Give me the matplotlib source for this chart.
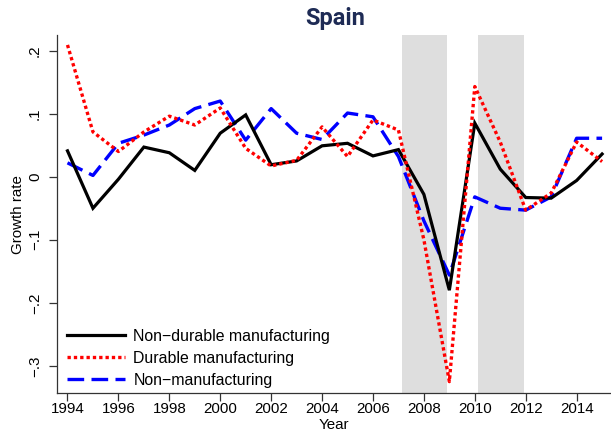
import matplotlib
matplotlib.use('Agg')
import numpy as np
import matplotlib.pyplot as plt
from matplotlib.ticker import FixedLocator

#---------------------------------------------------------------
# data
years = list(range(1994, 2016))

nondurable = [0.041, -0.050, -0.004, 0.047, 0.038, 0.010, 0.069, 0.098, 0.019, 0.025, 0.049,
              0.053, 0.033, 0.043, -0.028, -0.180, 0.085, 0.012, -0.033, -0.034, -0.006, 0.036]
durable    = [0.209, 0.071, 0.040, 0.071, 0.096, 0.082, 0.109, 0.045, 0.017, 0.026, 0.079,
              0.032, 0.090, 0.074, -0.100, -0.325, 0.143, 0.055, -0.053, -0.026, 0.055, 0.024]
nonmanuf   = [0.022, 0.002, 0.053, 0.066, 0.082, 0.108, 0.120, 0.058, 0.108, 0.069, 0.059,
              0.101, 0.095, 0.032, -0.070, -0.156, -0.032, -0.050, -0.053, -0.032, 0.061, 0.061]

recessions = [(2007.13, 2008.92), (2010.13, 2011.92)]

yticks = [0.2, 0.1, 0.0, -0.1, -0.2, -0.3]
ytick_labels = ['.2', '.1', '0', '\u2212.1', '\u2212.2', '\u2212.3']
xticks = list(range(1994, 2016, 2))

#---------------------------------------------------------------
plt.rcParams['font.family'] = ['Liberation Sans', 'DejaVu Sans']

fig = plt.figure(figsize=(6.11, 4.34), dpi=100)
ax = fig.add_axes([0.0938, 0.0945, 0.9062, 0.8245])

for (a, b) in recessions:
    ax.axvspan(a, b, color='#dedede', lw=0, zorder=0)

ax.plot(years, nondurable, color='black', lw=2.3, solid_joinstyle='miter',
        label='Non\u2212durable manufacturing', zorder=3)
ax.plot(years, durable, color='#ff0000', lw=2.4, linestyle=(0, (1, 0.9)),
        label='Durable manufacturing', zorder=4)
ax.plot(years, nonmanuf, color='#0000ff', lw=2.4, linestyle=(0, (5, 2.2)),
        label='Non\u2212manufacturing', zorder=2)

ax.set_xlim(1993.6, 2015.35)
ax.set_ylim(-0.343, 0.2245)

ax.xaxis.set_major_locator(FixedLocator(xticks))
ax.set_xticklabels([str(t) for t in xticks])
ax.yaxis.set_major_locator(FixedLocator(yticks))
ax.set_yticklabels(ytick_labels, rotation=90, va='center')

for s in ['top', 'right']:
    ax.spines[s].set_visible(False)
for s in ['left', 'bottom']:
    ax.spines[s].set_color('#333333')
    ax.spines[s].set_linewidth(0.9)
ax.tick_params(direction='out', length=6, width=0.9, color='#333333', labelsize=10.9)
ax.tick_params(axis='x', pad=0.5)
ax.tick_params(axis='y', pad=5)

ax.set_xlabel('Year', fontsize=10.9, labelpad=1.5)
ax.set_ylabel('Growth rate', fontsize=10.9, labelpad=2)
fig.text(0.548, 1 - 25 / 434, 'Spain', ha='center', va='baseline', fontsize=17,
         fontweight='bold', color='#1e2b55', family=['Roboto', 'DejaVu Sans'])

leg = ax.legend(loc='lower left', bbox_to_anchor=(0.0, -0.012), frameon=False, fontsize=11.4,
                handlelength=3.7, handletextpad=0.5, labelspacing=0.45, borderaxespad=0.2)

fig.savefig('out.png', dpi=100)
